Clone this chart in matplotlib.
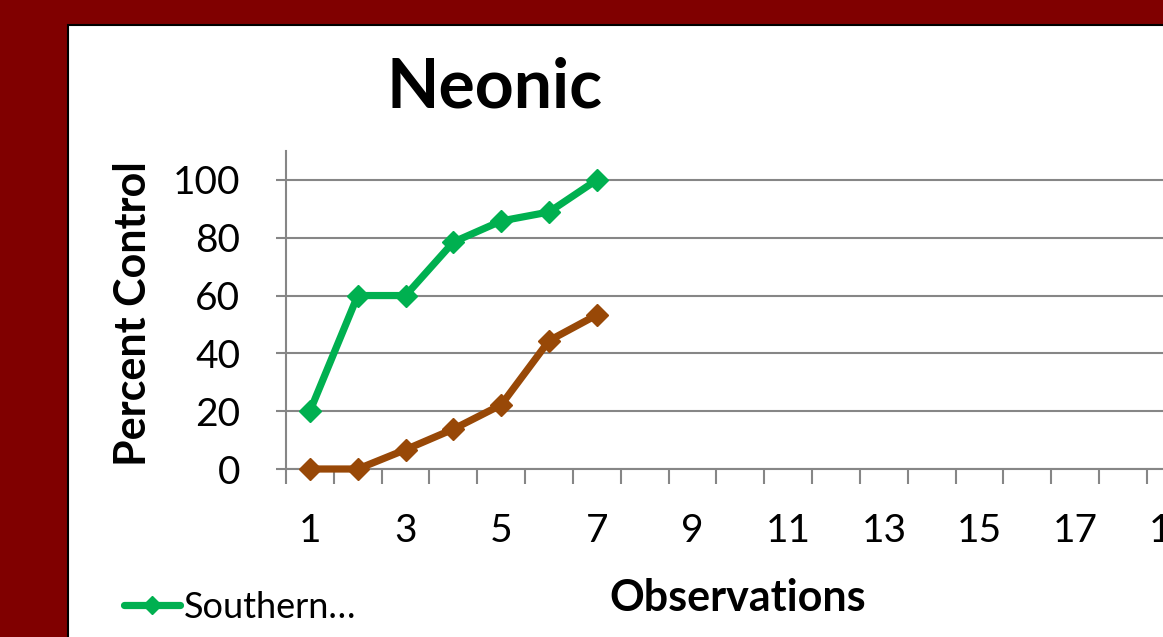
import matplotlib
matplotlib.use("Agg")
import matplotlib.pyplot as plt
from matplotlib.patches import Rectangle
from matplotlib.lines import Line2D

plt.rcParams['font.family'] = ['Lato', 'DejaVu Sans']

observations = [1, 2, 3, 4, 5, 6, 7]
southern = [20, 60, 60, 78.5, 85.8, 88.9, 100]
other = [0, 0, 6.7, 13.8, 22.2, 44.4, 53.3]
odd_labels = list(range(1, 20, 2))
y_ticks = [0, 20, 40, 60, 80, 100]

green = '#00B050'
brown = '#984807'
grid_col = '#868686'

W, H = 1163, 637
fig = plt.figure(figsize=(W / 100, H / 100), dpi=100)
fig.patch.set_facecolor('#800000')

# white chart panel with thin black edge, running off the right/bottom
fig.patches.append(Rectangle((68 / W, -0.1), 1.2, 1 - 25 / H + 0.1,
                             transform=fig.transFigure, facecolor='white',
                             edgecolor='black', linewidth=1.5, zorder=-5))

ax = fig.add_axes([286 / W, (H - 469) / H, 19 * 47.83 / W, (469 - 151) / H])
ax.set_facecolor('none')

ax.plot(observations, southern, color=green, lw=5.2, marker='D', ms=11,
        solid_capstyle='round', solid_joinstyle='round', zorder=3, clip_on=False)
ax.plot(observations, other, color=brown, lw=5.2, marker='D', ms=11,
        solid_capstyle='round', solid_joinstyle='round', zorder=3, clip_on=False)

ax.set_xlim(0.5, 19.5)
ax.set_ylim(0, 110)

ax.set_yticks(y_ticks)
ax.set_yticklabels([str(v) for v in y_ticks], fontsize=28)
ax.yaxis.grid(True, color=grid_col, lw=1.5)
ax.set_axisbelow(True)

ax.set_xticks([x + 0.5 for x in range(0, 19)])
ax.set_xticklabels([])
ax.set_xticks(odd_labels, minor=True)
ax.set_xticklabels([str(v) for v in odd_labels], minor=True, fontsize=28)
ax.tick_params(axis='x', which='major', length=11, width=1.5, color=grid_col)
ax.tick_params(axis='x', which='minor', length=0, pad=32)
ax.tick_params(axis='y', length=7, width=1.5, color=grid_col, pad=26)

for s in ['top', 'right']:
    ax.spines[s].set_visible(False)
for s in ['left', 'bottom']:
    ax.spines[s].set_color(grid_col)
    ax.spines[s].set_linewidth(1.5)

fig.text(495 / W, 1 - 88 / H, 'Neonic', fontsize=49, fontweight='bold',
         ha='center', va='center')
fig.text(133 / W, 1 - 314 / H, 'Percent Control', fontsize=31,
         fontweight='bold', rotation=90, ha='center', va='center')
fig.text(738 / W, 1 - 598 / H, 'Observations', fontsize=31,
         fontweight='bold', ha='center', va='center')

handle = Line2D([], [], color=green, lw=5.2, marker='D', ms=9,
                solid_capstyle='round')
fig.legend([handle], ['Southern\u2026'], loc='center left',
           bbox_to_anchor=(124 / W, 1 - 607 / H), frameon=False,
           fontsize=26, handlelength=1.55, handletextpad=0.1,
           borderpad=0, borderaxespad=0)

fig.savefig('out.png', dpi=100, facecolor=fig.get_facecolor())
